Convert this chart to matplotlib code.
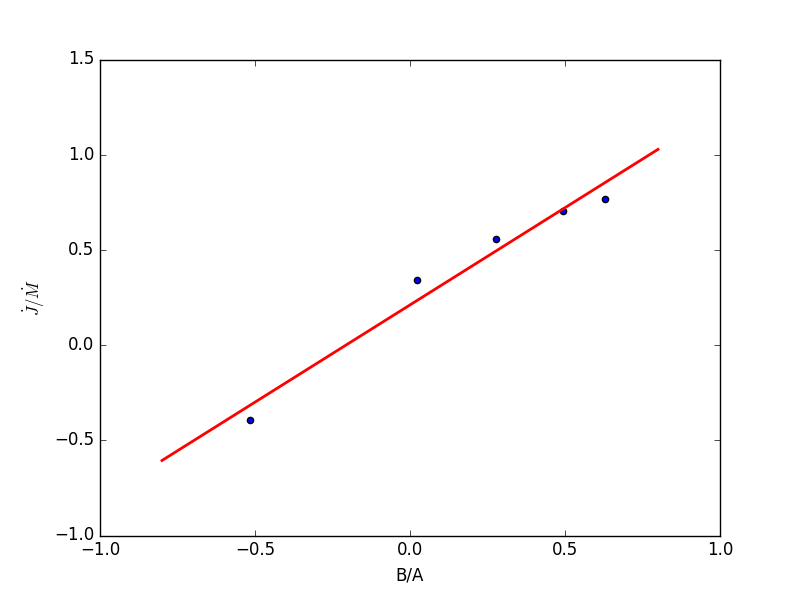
import matplotlib
matplotlib.use("Agg")
import matplotlib.pyplot as plt

plt.style.use("classic")

x_pts = [-0.516, 0.023, 0.277, 0.494, 0.629]
y_pts = [-0.393, 0.340, 0.556, 0.703, 0.765]
fit_x = [-0.8, 0.8]
fit_y = [-0.606, 1.028]

fig = plt.figure(figsize=(8, 5.95), dpi=100)
ax = fig.add_subplot(111)
ax.scatter(x_pts, y_pts, c="b", s=20, edgecolors="k")
ax.plot(fit_x, fit_y, color="r", lw=2)
ax.set_xlim(-1, 1)
ax.set_ylim(-1, 1.5)
ax.set_xlabel("B/A")
ax.set_ylabel(r"$\dot{J}/\dot{M}$")
fig.savefig("out.png", dpi=100)
